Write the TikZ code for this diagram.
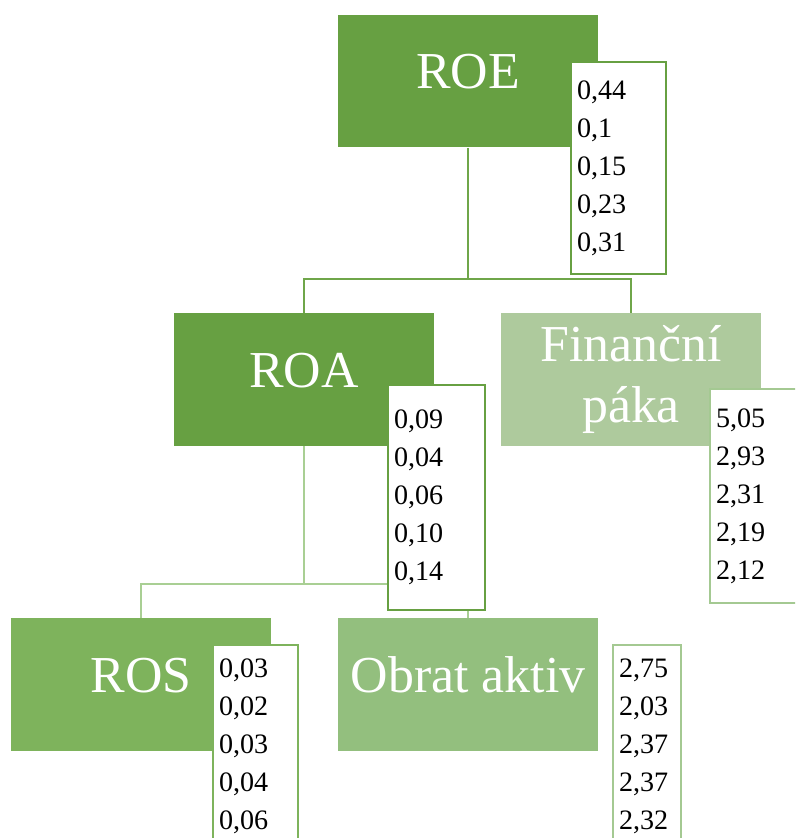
\documentclass[tikz,border=0pt]{standalone}
\usepackage{fontspec}
\setmainfont{Liberation Serif}
\usepackage{tikz}

\definecolor{darkgreen}{HTML}{67A042}
\definecolor{midgreen}{HTML}{7EB35C}
\definecolor{softgreen}{HTML}{93BF7E}
\definecolor{palegreen}{HTML}{AECA9D}
\definecolor{linkdark}{HTML}{6FA64A}
\definecolor{linklight}{HTML}{A9CF94}
\definecolor{edgelight}{HTML}{A4C992}

\begin{document}
\begin{tikzpicture}[x=0.02cm,y=-0.02cm]
  \clip (0,0) rectangle (795,838);

  \begin{scope}[every node/.style={rectangle,minimum width=5.2cm,minimum height=2.66cm,text=white,font=\fontsize{29.5}{31.3}\selectfont}]
      \tikzset{boxlabel/.style={text height=0.75cm,text depth=0.43cm}}
      \node[boxlabel,fill=darkgreen] (roe) at (468,81) {ROE};

      \node[boxlabel,fill=darkgreen] (roa) at (304,379.5) {ROA};
      \node[fill=palegreen,align=center] (fin) at (631,379.5) {Finanční\\[3pt]páka};

      \node[boxlabel,fill=midgreen] (ros) at (141,684.5) {ROS};
      \node[boxlabel,fill=softgreen] (obr) at (468,684.5) {Obrat aktiv};
  \end{scope}

  \tikzset{link dark/.style={draw=linkdark, line width=1.1pt},
           link light/.style={draw=linklight, line width=1.1pt}}

  \coordinate (topfork) at (468,279);
  \coordinate (midfork) at (304,584);

  \draw[link dark] (roe) -- (topfork);
  \draw[link dark] (roa) |- (topfork) -| (fin);

  \draw[link light] (roa) -- (midfork);
  \draw[link light] (ros) |- (midfork) -| (obr);

  \tikzset{valbox/.style={fill=white, line width=1.4pt, text=black, align=left, inner xsep=0.12cm, font=\fontsize{16}{21.6}\selectfont}}

  \node[valbox, draw=darkgreen, text width=1.66cm, minimum height=4.24cm] (roev) at (618.5,168) {0,44\\0,1\\0,15\\0,23\\0,31};
  \node[valbox, draw=darkgreen, text width=1.70cm, minimum height=4.5cm] (roav) at (436.5,497.5) {0,09\\0,04\\0,06\\0,10\\0,14};
  \node[valbox, draw=edgelight, text width=1.68cm, minimum height=4.28cm] (finv) at (758,496) {5,05\\2,93\\2,31\\2,19\\2,12};
  \node[valbox, draw=midgreen, text width=1.46cm, minimum height=4.06cm] (rosv) at (255.5,746.5) {0,03\\0,02\\0,03\\0,04\\0,06};
  \node[valbox, draw=edgelight, text width=1.12cm, minimum height=4.06cm] (obrv) at (647,746.5) {2,75\\2,03\\2,37\\2,37\\2,32};

\end{tikzpicture}
\end{document}
